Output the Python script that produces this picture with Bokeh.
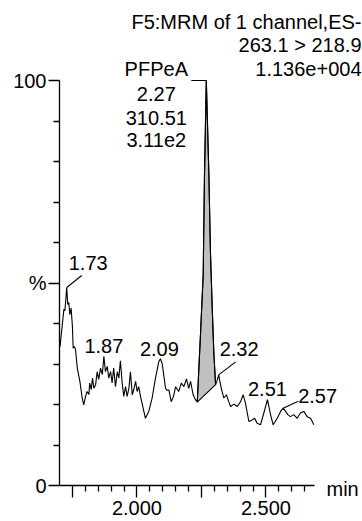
from bokeh.plotting import figure
from bokeh.models import Range1d, FixedTicker, Label, ColumnDataSource
from bokeh.core.properties import value
from bokeh.embed import file_html
from bokeh.resources import INLINE

# ---------------- data ----------------
rt = [1.702, 1.708, 1.717, 1.721, 1.728, 1.732, 1.736, 1.740, 1.745, 1.750,
      1.753, 1.758, 1.762, 1.769, 1.779, 1.788, 1.794, 1.801, 1.807, 1.814,
      1.817, 1.823, 1.828, 1.833, 1.840, 1.846, 1.852, 1.859, 1.866, 1.872,
      1.878, 1.885, 1.891, 1.898, 1.904, 1.910, 1.917, 1.924, 1.930, 1.936,
      1.943, 1.949, 1.956, 1.962, 1.969, 1.975, 1.982, 1.988, 1.995, 2.001,
      2.007, 2.014, 2.027, 2.033, 2.046, 2.059, 2.072, 2.085, 2.091, 2.098,
      2.104, 2.111, 2.117, 2.124, 2.133, 2.142, 2.150, 2.162, 2.172, 2.182,
      2.192, 2.201, 2.208, 2.218, 2.227, 2.234, 2.247, 2.257, 2.262, 2.269,
      2.279, 2.285, 2.292, 2.298, 2.305, 2.310, 2.317, 2.327, 2.337, 2.347,
      2.356, 2.363, 2.376, 2.389, 2.402, 2.412, 2.421, 2.434, 2.447, 2.456,
      2.466, 2.479, 2.492, 2.506, 2.518, 2.528, 2.544, 2.557, 2.567, 2.576,
      2.585, 2.595, 2.608, 2.621, 2.634, 2.647, 2.660, 2.673, 2.686]
intensity = [34.3, 38.0, 43.5, 43.2, 48.9, 44.7, 45.2, 42.2, 43.8, 39.3,
             33.9, 34.3, 33.6, 29.0, 25.7, 21.6, 19.9, 22.0, 23.2, 22.5,
             25.3, 23.7, 26.5, 24.0, 24.9, 28.1, 26.2, 29.0, 27.4, 31.9,
             28.1, 29.4, 26.5, 28.1, 25.3, 29.0, 24.4, 28.1, 26.5, 30.8,
             25.3, 22.0, 24.4, 22.0, 24.0, 28.1, 22.4, 23.7, 25.7, 23.2,
             24.4, 22.0, 18.3, 16.6, 18.3, 21.6, 26.5, 30.6, 31.3, 30.1,
             27.3, 24.0, 23.5, 23.6, 20.7, 22.0, 24.4, 23.2, 25.3, 24.4,
             26.3, 24.0, 25.7, 22.4, 21.2, 20.6, 38.0, 52.1, 76.8, 100.0,
             76.8, 57.8, 43.8, 33.1, 24.9, 25.7, 27.3, 24.0, 21.6, 22.4,
             20.7, 19.5, 20.1, 19.5, 20.7, 22.4, 20.3, 15.8, 16.2, 16.6,
             15.4, 15.0, 17.9, 21.2, 17.5, 15.0, 16.6, 18.3, 19.1, 18.3,
             17.5, 17.0, 17.5, 16.6, 17.9, 18.3, 17.0, 16.6, 15.0]

# integrated peak (start / end retention times of the shaded area)
int_start_rt = 2.234
int_end_rt = 2.305
int_name = "PFPeA"
int_rt_label = "2.27"
int_area_label = "310.51"
int_height_label = "3.11e2"

# labelled peaks
peak_labels = ["1.73", "1.87", "2.09", "2.32", "2.51", "2.57"]
peak_rt = [1.728, 1.872, 2.091, 2.317, 2.506, 2.567]
peak_height = [48.9, 31.9, 31.3, 27.3, 21.2, 19.1]

title_lines = ["F5:MRM of 1 channel,ES-", "263.1 > 218.9", "1.136e+004"]

x_major = [1.75, 2.0, 2.25, 2.5]
x_minor = [1.80, 1.85, 1.90, 1.95, 2.05, 2.10, 2.15, 2.20,
           2.30, 2.35, 2.40, 2.45, 2.55, 2.60, 2.65]
x_tick_text = {1.75: "", 2.0: "2.000", 2.25: "", 2.5: "2.500"}
y_major = [0, 50, 100]
y_minor = [10, 20, 30, 40, 60, 70, 80, 90]
y_tick_text = {0: "0", 50: "%", 100: "100"}
x_unit = "min"

# ---------------- layout ----------------
FONT = "Liberation Sans"
FS = "20px"
W, H = 362, 521
BL = 59
frame_w = W - BL
frame_h = H
PX_PER_MIN = 258.0
X0 = 1.70
X_AXIS_END = 2.69
Y0_PX = 485           # figure pixel (from top) of the 0 % level
Y100_PX = 80          # figure pixel (from top) of the 100 % level
px_per_pct = (Y0_PX - Y100_PX) / 100.0
y_start = -(frame_h - Y0_PX) / px_per_pct
y_end = Y0_PX / px_per_pct
x_end = X0 + frame_w / PX_PER_MIN
AX_W = 1.3


def dx(px):
    return px / PX_PER_MIN


def dy(px):
    return px / px_per_pct


def fx(px):      # figure px -> data x
    return X0 + (px - BL) / PX_PER_MIN


def fy(px):      # figure px from top -> data y
    return (Y0_PX - px) / px_per_pct


p = figure(width=W, height=H, x_range=Range1d(X0, x_end), y_range=Range1d(y_start, y_end),
           output_backend="svg", toolbar_location=None,
           min_border_left=BL, min_border_bottom=0, min_border_top=0, min_border_right=0)
p.outline_line_color = None
p.grid.visible = False
p.background_fill_color = "white"
p.border_fill_color = "white"

# axes
xa = p.xaxis[0]
xa.fixed_location = 0
xa.ticker = FixedTicker(ticks=x_major, minor_ticks=x_minor)
xa.major_label_overrides = x_tick_text
xa.bounds = (X0, X_AXIS_END)
xa.major_tick_out = 12
xa.major_tick_in = 0
xa.minor_tick_out = 6
xa.minor_tick_in = 0
xa.major_label_standoff = 3
ya = p.yaxis[0]
ya.ticker = FixedTicker(ticks=y_major, minor_ticks=y_minor)
ya.major_label_overrides = y_tick_text
ya.bounds = (0, 100)
ya.major_tick_out = 11
ya.major_tick_in = 0
ya.minor_tick_out = 6
ya.minor_tick_in = 0
ya.major_label_standoff = 2
for ax in (xa, ya):
    ax.axis_line_color = "black"
    ax.axis_line_width = AX_W
    ax.major_tick_line_color = "black"
    ax.major_tick_line_width = AX_W
    ax.minor_tick_line_color = "black"
    ax.minor_tick_line_width = AX_W
    ax.major_label_text_font = FONT
    ax.major_label_text_font_size = FS
    ax.major_label_text_color = "black"

# integrated peak area
i0 = rt.index(int_start_rt)
i1 = rt.index(int_end_rt)
p.patch(rt[i0:i1 + 1], intensity[i0:i1 + 1], fill_color="#c0c0c0",
        line_color="black", line_width=1.1)

# trace
p.line(rt, intensity, line_color="black", line_width=1.1)

# labelled peaks
label_dx = [2, 0, -1, 1, 0, 15]
label_dy = [-24, -10, -10, -26, -11, -12]
label_align = ["left", "center", "center", "left", "center", "left"]
src = ColumnDataSource(dict(x=peak_rt, y=peak_height, t=peak_labels,
                            xo=label_dx, yo=label_dy, al=label_align))
p.text(x="x", y="y", text="t", x_offset="xo", y_offset="yo", text_align="al",
       text_baseline="middle", text_font=value(FONT), text_font_size=FS,
       text_color="black", source=src)

# leader lines (pixel deltas from the peak apex)
leader_idx = [0, 3, 5]
leader_end = [(15, -12), (17, -13), (15, -7)]
lx0 = [peak_rt[i] for i in leader_idx]
ly0 = [peak_height[i] for i in leader_idx]
lx1 = [peak_rt[i] + dx(e[0]) for i, e in zip(leader_idx, leader_end)]
ly1 = [peak_height[i] - dy(e[1]) for i, e in zip(leader_idx, leader_end)]
p.segment(lx0, ly0, lx1, ly1, line_color="black", line_width=1.1)

# integrated peak annotation
apex = intensity.index(max(intensity))
ax_rt, ax_h = rt[apex], intensity[apex]
p.segment([ax_rt - dx(15)], [ax_h], [ax_rt], [ax_h], line_color="black", line_width=1.1)
block = [int_name, int_rt_label, int_area_label, int_height_label]
p.text(x=[ax_rt] * 4, y=[ax_h] * 4, text=block, x_offset=-50,
       y_offset=[-12, 13, 37, 59], text_align="center", text_baseline="middle",
       text_font=value(FONT), text_font_size=FS, text_color="black")

# title block (right aligned)
for i, line in enumerate(title_lines):
    p.add_layout(Label(x=fx(361), y=fy(21 + 23.5 * i), text=line, text_align="right",
                       text_baseline="middle", text_font=FONT, text_font_size=FS,
                       text_color="black"))

# unit label
p.add_layout(Label(x=fx(326), y=fy(Y0_PX + 3), text=x_unit, text_align="left",
                   text_baseline="middle", text_font=FONT, text_font_size=FS,
                   text_color="black"))

open("out.html", "w").write(file_html(p, INLINE))
